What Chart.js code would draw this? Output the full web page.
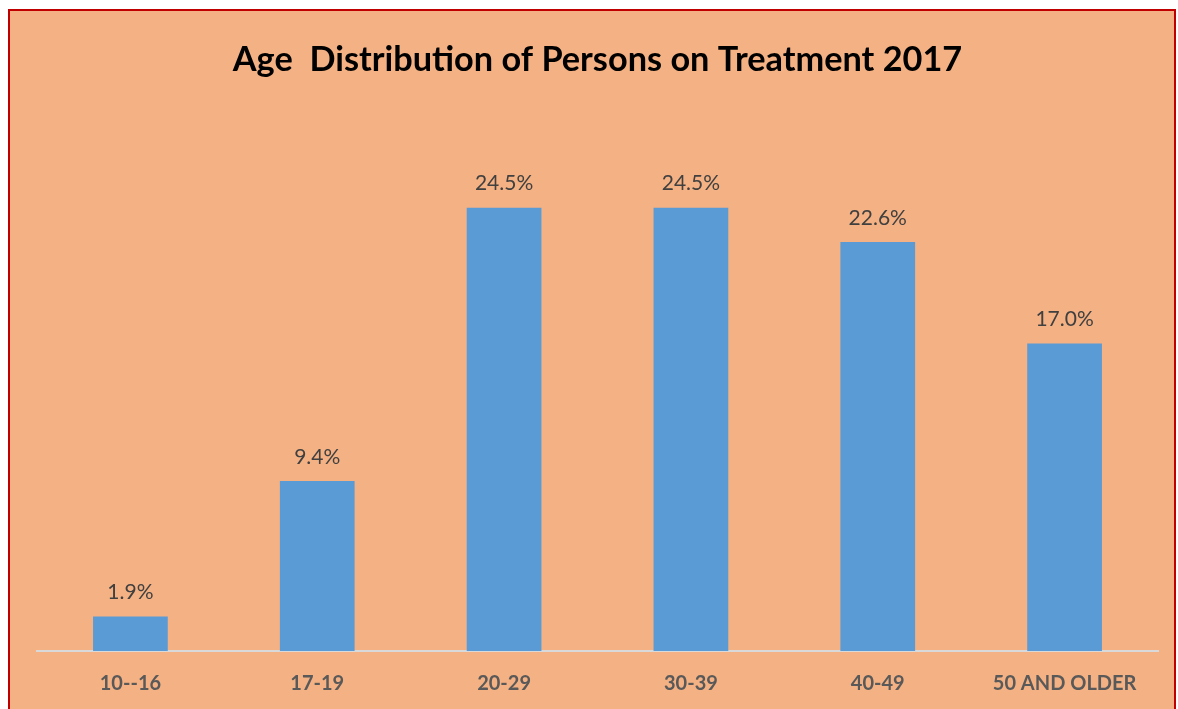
<!DOCTYPE html>
<html>
<head>
<meta charset="utf-8">
<script src="https://cdn.jsdelivr.net/npm/chart.js@4"></script>
<style>
  html, body { margin: 0; padding: 0; background: #ffffff; width: 1178px; height: 709px; overflow: hidden; }
  #frame {
    position: absolute; left: 8px; top: 9px;
    width: 1164px; height: 700px;
    border-top: 2px solid #C00000; border-left: 2px solid #C00000; border-right: 2px solid #C00000;
    background: #F4B183;
  }
  #wrap { position: absolute; left: 0; top: 0; width: 1164px; height: 698px; }
</style>
</head>
<body>
<div id="frame"><div id="wrap"><canvas id="c" width="1164" height="698"></canvas></div></div>
<script>
const titleText = 'Age  Distribution of Persons on Treatment 2017';
const categories = ['10--16', '17-19', '20-29', '30-39', '40-49', '50 AND OLDER'];
const percentValues = [1.9, 9.4, 24.5, 24.5, 22.6, 17.0];

const FONT = 'Lato, "Open Sans", "Liberation Sans", sans-serif';

// fit title font size to the reference title width
const mctx = document.createElement('canvas').getContext('2d');
mctx.font = 'bold 30px ' + FONT;
const titleSize = Math.round(30 * 730 / mctx.measureText(titleText).width * 10) / 10;

const labelPlugin = {
  id: 'barLabels',
  afterDatasetsDraw(chart) {
    const ctx = chart.ctx;
    const meta = chart.getDatasetMeta(0);
    ctx.save();
    ctx.font = '21px ' + FONT;
    ctx.fillStyle = '#404040';
    ctx.textAlign = 'center';
    ctx.textBaseline = 'middle';
    meta.data.forEach((el, i) => {
      ctx.fillText(percentValues[i].toFixed(1) + '%', el.x, el.y - 24);
    });
    ctx.restore();
  }
};

new Chart(document.getElementById('c'), {
  type: 'bar',
  data: {
    labels: categories,
    datasets: [{
      data: percentValues,
      backgroundColor: '#5B9BD5',
      borderWidth: 0,
      barPercentage: 0.4,
      categoryPercentage: 1.0
    }]
  },
  options: {
    responsive: false,
    animation: false,
    devicePixelRatio: 1,
    layout: { padding: { left: 27, right: 16, top: 0, bottom: 0 } },
    plugins: {
      legend: { display: false },
      tooltip: { enabled: false },
      title: {
        display: true,
        text: titleText,
        color: '#000000',
        font: { family: FONT, size: titleSize, weight: 'bold', lineHeight: 1.2 },
        padding: { top: 28, bottom: 28 }
      }
    },
    scales: {
      x: {
        grid: { display: false, drawTicks: false },
        border: { display: true, color: '#D9D9D9', width: 2 },
        ticks: {
          color: '#595959',
          font: { family: FONT, size: 20, weight: 'bold' },
          padding: 21,
          maxRotation: 0, autoSkip: false
        },
        afterFit(scale) { scale.height = 58; }
      },
      y: {
        display: false,
        min: 0,
        max: 30
      }
    }
  },
  plugins: [labelPlugin]
});
</script>
</body>
</html>
